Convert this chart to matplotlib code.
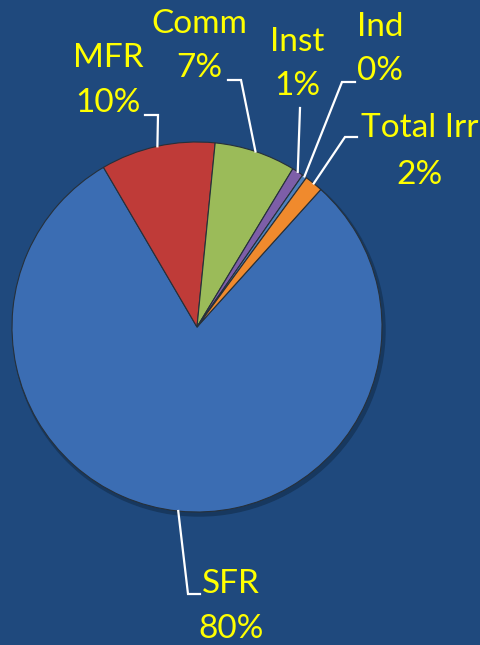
import numpy as np
import matplotlib
matplotlib.use("Agg")
import matplotlib.pyplot as plt
from matplotlib.patches import Circle

plt.rcParams['font.family'] = ['Lato', 'DejaVu Sans']

# Data
categories = ["SFR", "MFR", "Comm", "Inst", "Ind", "Total Irr"]
values = [79.9, 10.0, 7.1, 1.0, 0.4, 1.6]
colors = ["#3B6DB3", "#BF3B38", "#9BBB59", "#7D5EA8", "#4F81BD", "#F08A2D"]

# Layout (pixel space, y up)
W, H = 480, 645
BG = "#1F497D"
cx, cy, R = 197, H - 327, 185

# label centers (x, y of name line, y of percent line) in pixel coords from top
label_pos = {
    "SFR": (231, 584, 629),
    "MFR": (108, 58, 103),
    "Comm": (199, 24, 68),
    "Inst": (297, 42, 86),
    "Ind": (380, 27, 71),
    "Total Irr": (420, 128, 175),
}
# leader elbow points (pixel coords from top)
leader_path = {
    "SFR": [(188, 594), (200, 594)],
    "MFR": [(158, 115), (145, 115)],
    "Comm": [(241, 80), (228, 80)],
    "Inst": [(300, 108)],
    "Ind": [(342, 82), (355, 82)],
    "Total Irr": [(345, 137), (357, 137)],
}

fig = plt.figure(figsize=(W / 100, H / 100), dpi=100, facecolor=BG)
ax = fig.add_axes([0, 0, 1, 1])
ax.set_facecolor(BG)

# soft shadow
ax.add_patch(Circle((cx + 2, cy - 3), R + 1, color="#17385f", zorder=0))

wedges, _ = ax.pie(values, colors=colors, startangle=48, counterclock=False,
                   center=(cx, cy), radius=R, frame=True,
                   wedgeprops=dict(edgecolor="#26303a", linewidth=0.8))
ax.set_xlim(0, W)
ax.set_ylim(0, H)
ax.set_aspect('equal')
ax.axis('off')

for w in wedges:
    w.set_zorder(2)

pct_labels = ["%d%%" % round(v) for v in values]
text_color = "#FFFF00"
fs = 24
for w, cat, pl in zip(wedges, categories, pct_labels):
    mid = np.deg2rad((w.theta1 + w.theta2) / 2)
    sx, sy = cx + R * np.cos(mid), cy + R * np.sin(mid)
    pts = [(sx, sy)] + [(x, H - y) for x, y in leader_path[cat]]
    xs, ys = zip(*pts)
    ax.plot(xs, ys, color="white", lw=1.6, zorder=3, solid_joinstyle='miter')
    lx, ly1, ly2 = label_pos[cat]
    ax.text(lx, H - ly1, cat, color=text_color, fontsize=fs, ha='center', va='center', zorder=4)
    ax.text(lx, H - ly2, pl, color=text_color, fontsize=fs, ha='center', va='center', zorder=4)

fig.savefig("out.png", dpi=100, facecolor=BG)
